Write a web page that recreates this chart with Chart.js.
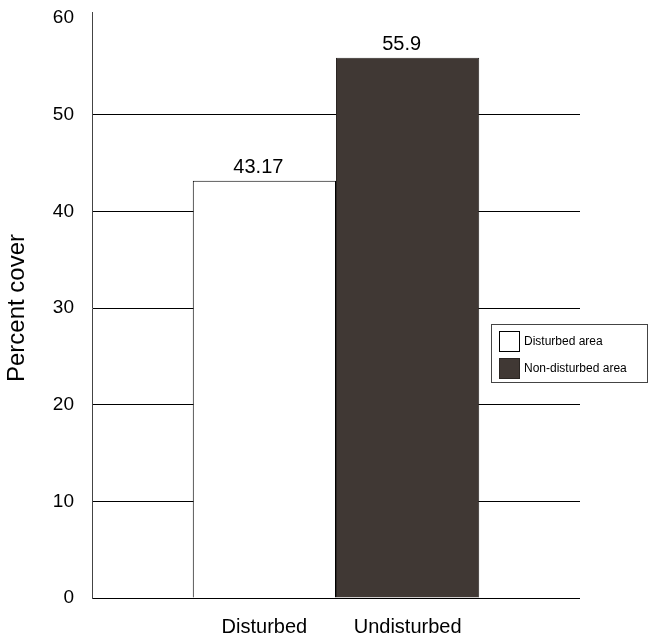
<!DOCTYPE html>
<html>
<head>
<meta charset="utf-8">
<script src="https://cdn.jsdelivr.net/npm/chart.js@4.4.1/dist/chart.umd.min.js"></script>
<style>
  body { margin: 0; background: #fff; }
  #caja { width: 649px; height: 640px; }
</style>
</head>
<body>
<div id="caja"><canvas id="grafica"></canvas></div>
<script>
// datos
const categorias = ['Disturbed', 'Undisturbed'];
const leyenda = ['Disturbed area', 'Non-disturbed area'];
const valores = [43.17, 55.9];
const colores = ['#ffffff', '#403834'];
const bordes = ['#000000', '#2a2522'];
const ticksY = [0, 10, 20, 30, 40, 50, 60];

Chart.defaults.font.family = '"Liberation Sans", Arial, sans-serif';
Chart.defaults.color = '#000';

// etiquetas de valor y nombres bajo cada barra
const etiquetas = {
  id: 'etiquetas',
  afterDatasetsDraw(chart) {
    const ctx = chart.ctx;
    ctx.save();
    ctx.fillStyle = '#000';
    ctx.font = '20px "Liberation Sans", Arial, sans-serif';
    ctx.textAlign = 'center';
    ctx.textBaseline = 'middle';
    chart.data.datasets.forEach((ds, i) => {
      const barra = chart.getDatasetMeta(i).data[0];
      ctx.fillText(String(ds.data[0]), barra.x - 6, barra.y - 13);
      ctx.fillText(categorias[i], barra.x, chart.chartArea.bottom + 29);
    });
    ctx.restore();
  }
};

// leyenda con recuadro dentro del area
const cajaLeyenda = {
  id: 'cajaLeyenda',
  afterDraw(chart) {
    const ctx = chart.ctx;
    const x = chart.chartArea.right - 89;
    const y = 324;
    ctx.save();
    ctx.fillStyle = '#fff';
    ctx.fillRect(x, y, 157, 59);
    ctx.strokeStyle = '#444';
    ctx.lineWidth = 1;
    ctx.strokeRect(x + 0.5, y + 0.5, 156, 58);
    ctx.font = '12px "Liberation Sans", Arial, sans-serif';
    ctx.textBaseline = 'middle';
    chart.data.datasets.forEach((ds, i) => {
      const yy = y + 7 + i * 27;
      ctx.fillStyle = ds.backgroundColor;
      ctx.fillRect(x + 8, yy, 21, 21);
      ctx.strokeStyle = ds.borderColor;
      ctx.strokeRect(x + 8.5, yy + 0.5, 20, 20);
      ctx.fillStyle = '#000';
      ctx.fillText(ds.label, x + 33, yy + 11);
    });
    // el eje vertical sobresale un poco por arriba
    const eje = chart.scales.y;
    ctx.strokeStyle = '#444';
    ctx.beginPath();
    ctx.moveTo(eje.right + 0.5, chart.chartArea.top - 6);
    ctx.lineTo(eje.right + 0.5, chart.chartArea.top);
    ctx.stroke();
    ctx.restore();
  }
};

const conjuntos = leyenda.map((nombre, i) => ({
  label: nombre,
  data: [valores[i]],
  backgroundColor: colores[i],
  borderColor: bordes[i],
  borderWidth: 1,
  categoryPercentage: 0.587,
  barPercentage: 1
}));

new Chart(document.getElementById('grafica'), {
  type: 'bar',
  data: { labels: [''], datasets: conjuntos },
  options: {
    responsive: true,
    maintainAspectRatio: false,
    animation: false,
    layout: { padding: { top: 18, right: 69, bottom: 42, left: 0 } },
    plugins: {
      legend: { display: false },
      tooltip: { enabled: false }
    },
    scales: {
      x: { display: false },
      y: {
        min: 0,
        max: 60,
        afterFit: s => { s.width = 92; s.paddingTop = 0; s.paddingBottom = 0; },
        afterBuildTicks: s => { s.ticks = ticksY.map(v => ({ value: v })); },
        ticks: { font: { size: 19 }, padding: 18, color: '#000' },
        grid: {
          drawTicks: false,
          color: c => (c.tick && c.tick.value === 60 ? 'rgba(0,0,0,0)' : '#000'),
          lineWidth: 1
        },
        border: { display: true, color: '#444' },
        title: {
          display: true,
          text: 'Percent cover',
          font: { size: 24 },
          padding: { top: 3, bottom: 0 },
          color: '#000'
        }
      }
    }
  },
  plugins: [etiquetas, cajaLeyenda]
});
</script>
</body>
</html>
